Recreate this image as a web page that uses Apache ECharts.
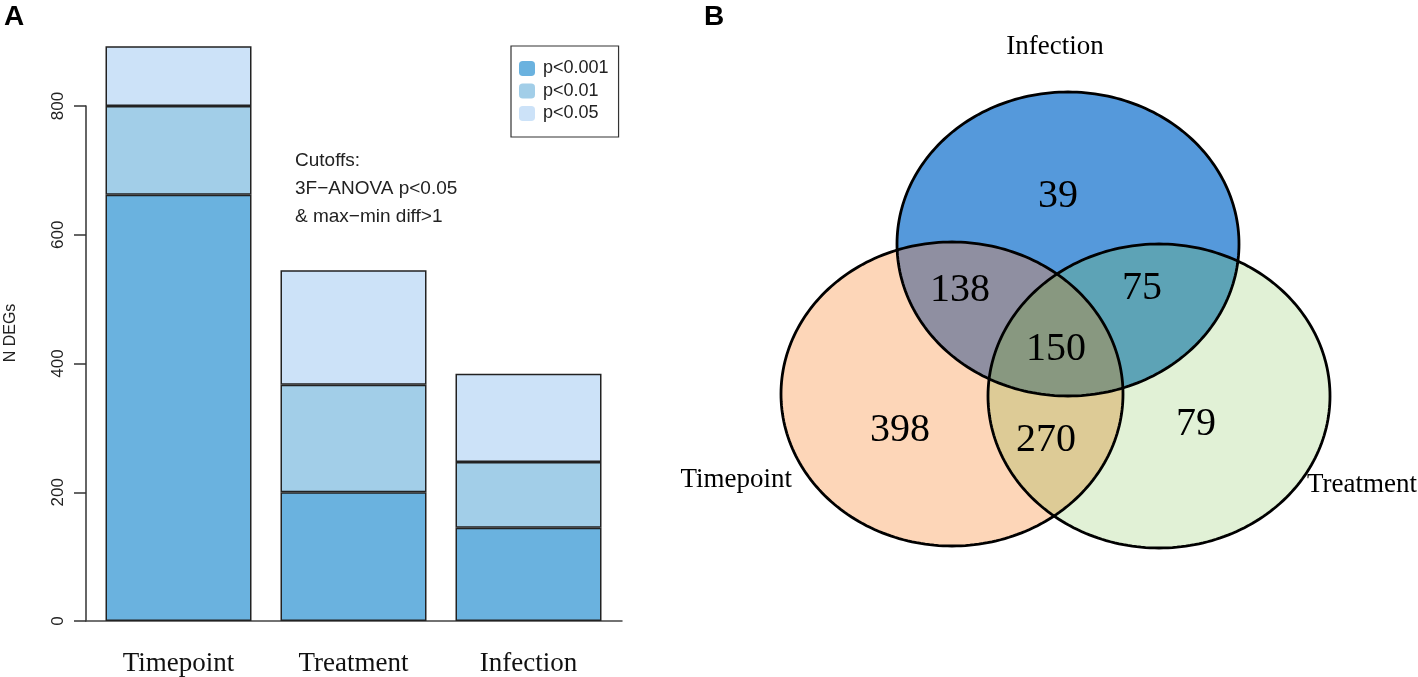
<!DOCTYPE html>
<html>
<head>
<meta charset="utf-8">
<script src="https://cdn.jsdelivr.net/npm/echarts@6/dist/echarts.min.js"></script>
<style>
html,body{margin:0;padding:0;background:#fff;}
#chart{width:1418px;height:677px;}
</style>
</head>
<body>
<div id="chart"></div>
<script>
// ---------- Data ----------
const categories = ['Timepoint', 'Treatment', 'Infection'];
const pLevels = ['p<0.001', 'p<0.01', 'p<0.05'];
const p001 = [662, 200, 145];
const p01 = [138, 167, 102];
const p05 = [93, 178, 137];
const yTickStep = 200;
const yMaxTick = 800;
const cutoffLines = ['Cutoffs:', '3F\u2212ANOVA p<0.05', '& max\u2212min diff>1'];

const vennSets = ['Infection', 'Timepoint', 'Treatment'];
const vennRegions = ['I', 'I&Ti', 'I&Tr', 'I&Ti&Tr', 'Ti', 'Ti&Tr', 'Tr'];
const vennCounts = [39, 138, 75, 150, 398, 270, 79];

// ---------- Layout / style ----------
const barColors = ['#6AB2DF', '#A2CEE8', '#CCE2F8'];
const SANS = 'Liberation Sans, Arial, Helvetica, sans-serif';
const SERIF = 'Liberation Serif, Times New Roman, serif';

// Venn geometry in local pixel units of the right panel
const VENN = {
  rx: 171, ry: 152,
  centers: { 'I': [308, 244], 'Ti': [192, 394], 'Tr': [399, 396] },
  fills: {
    'I': '#5599DB', 'Ti': '#FDD6B8', 'Tr': '#E1F1D6',
    'I&Ti': '#8F8FA1', 'I&Tr': '#5DA3B6', 'Ti&Tr': '#DDCB96', 'I&Ti&Tr': '#889880'
  },
  labelPos: {
    'I': [298, 196], 'I&Ti': [200, 290], 'I&Tr': [382, 288], 'I&Ti&Tr': [296, 349],
    'Ti': [140, 430], 'Ti&Tr': [286, 440], 'Tr': [436, 424]
  },
  setLabel: {
    'Infection': { pos: [295, 47], align: 'center' },
    'Timepoint': { pos: [32, 480], align: 'right' },
    'Treatment': { pos: [657, 485], align: 'right' }
  }
};

function ellipsePoly(c, rx, ry, n) {
  const pts = [];
  for (let i = 0; i < n; i++) {
    const t = 2 * Math.PI * i / n;
    pts.push([c[0] + rx * Math.cos(t), c[1] + ry * Math.sin(t)]);
  }
  return pts;
}
function polyArea(p) {
  let a = 0;
  for (let i = 0; i < p.length; i++) {
    const q = p[i], r = p[(i + 1) % p.length];
    a += q[0] * r[1] - r[0] * q[1];
  }
  return a / 2;
}
function clipPoly(subject, clip) {
  const s = Math.sign(polyArea(clip)) || 1;
  let out = subject.slice();
  for (let i = 0; i < clip.length && out.length; i++) {
    const A = clip[i], B = clip[(i + 1) % clip.length];
    const inside = p => s * ((B[0] - A[0]) * (p[1] - A[1]) - (B[1] - A[1]) * (p[0] - A[0])) >= 0;
    const inter = (P, Q) => {
      const a1 = B[1] - A[1], b1 = A[0] - B[0], c1 = a1 * A[0] + b1 * A[1];
      const a2 = Q[1] - P[1], b2 = P[0] - Q[0], c2 = a2 * P[0] + b2 * P[1];
      const d = a1 * b2 - a2 * b1;
      return [(b2 * c1 - b1 * c2) / d, (a1 * c2 - a2 * c1) / d];
    };
    const inp = out; out = [];
    for (let j = 0; j < inp.length; j++) {
      const P = inp[j], Q = inp[(j + 1) % inp.length];
      const pin = inside(P), qin = inside(Q);
      if (pin) { out.push(P); if (!qin) out.push(inter(P, Q)); }
      else if (qin) { out.push(inter(P, Q)); }
    }
  }
  return out;
}

function vennRender(params, api) {
  const N = 240;
  const polys = {};
  ['I', 'Ti', 'Tr'].forEach(k => {
    polys[k] = ellipsePoly(VENN.centers[k], VENN.rx, VENN.ry, N).map(p => api.coord(p));
  });
  const children = [];
  const addFill = (pts, fill) => children.push({ type: 'polygon', shape: { points: pts }, style: { fill: fill, stroke: null } });
  ['Ti', 'Tr', 'I'].forEach(k => addFill(polys[k], VENN.fills[k]));
  addFill(clipPoly(polys['I'], polys['Ti']), VENN.fills['I&Ti']);
  addFill(clipPoly(polys['I'], polys['Tr']), VENN.fills['I&Tr']);
  addFill(clipPoly(polys['Ti'], polys['Tr']), VENN.fills['Ti&Tr']);
  addFill(clipPoly(clipPoly(polys['I'], polys['Ti']), polys['Tr']), VENN.fills['I&Ti&Tr']);
  ['Ti', 'Tr', 'I'].forEach(k => children.push({
    type: 'polygon', shape: { points: polys[k] },
    style: { fill: null, stroke: '#000', lineWidth: 2.8 }
  }));
  vennRegions.forEach((r, i) => {
    const p = api.coord(VENN.labelPos[r]);
    children.push({ type: 'text', x: p[0], y: p[1], style: {
      text: String(vennCounts[i]), font: '40px ' + SERIF, fill: '#000', align: 'center', verticalAlign: 'middle' } });
  });
  vennSets.forEach(s => {
    const L = VENN.setLabel[s];
    const p = api.coord(L.pos);
    children.push({ type: 'text', x: p[0], y: p[1], style: {
      text: s, font: '27px ' + SERIF, fill: '#000', align: L.align, verticalAlign: 'middle' } });
  });
  return { type: 'group', children: children };
}

const chart = echarts.init(document.getElementById('chart'), null, { renderer: 'canvas' });

const barSeries = [p001, p01, p05].map((vals, i) => ({
  name: pLevels[i], type: 'bar', stack: 'total', xAxisIndex: 0, yAxisIndex: 0,
  data: vals, barWidth: 146, clip: false, animation: false,
  itemStyle: { color: barColors[i], borderColor: '#222', borderWidth: 1.5 },
  emphasis: { disabled: true }
}));

const option = {
  animation: false,
  backgroundColor: '#fff',
  grid: [
    { left: 91, width: 525, top: 106, bottom: 56 },
    { left: 86, width: 536, top: 106, bottom: 56 },
    { left: 760, width: 658, top: 0, height: 677 }
  ],
  xAxis: [
    { type: 'category', gridIndex: 0, data: categories,
      axisLine: { show: false }, axisTick: { show: false },
      axisLabel: { fontFamily: SERIF, fontSize: 27, color: '#111', margin: 29, interval: 0 } },
    { type: 'value', gridIndex: 1, min: 0, max: 1,
      axisLine: { show: true, onZero: false, lineStyle: { color: '#444', width: 1.5 } },
      axisTick: { show: false }, axisLabel: { show: false }, splitLine: { show: false } },
    { type: 'value', gridIndex: 2, min: 0, max: 658, show: false }
  ],
  yAxis: [
    { type: 'value', gridIndex: 0, min: 0, max: yMaxTick, show: false },
    { type: 'value', gridIndex: 1, min: 0, max: yMaxTick, interval: yTickStep,
      axisLine: { show: true, onZero: false, lineStyle: { color: '#333', width: 1.5 } },
      axisTick: { show: true, length: 12, lineStyle: { color: '#333', width: 1.5 } },
      axisLabel: { rotate: 90, margin: 19, fontFamily: SANS, fontSize: 17, color: '#222' },
      splitLine: { show: false } },
    { type: 'value', gridIndex: 2, min: 0, max: 677, inverse: true, show: false }
  ],
  legend: {
    data: pLevels, orient: 'vertical', left: 511, top: 46,
    itemWidth: 16, itemHeight: 15, itemGap: 4.5,
    padding: [13.5, 10, 14.5, 8],
    borderColor: '#333', borderWidth: 1.2, backgroundColor: '#fff',
    itemStyle: { borderWidth: 0 },
    textStyle: { fontFamily: SANS, fontSize: 18, color: '#222', padding: [0, 0, 0, 3] },
    selectedMode: false
  },
  graphic: [
    { type: 'text', left: 4, top: 3, style: { text: 'A', font: 'bold 28px ' + SANS, fill: '#000' } },
    { type: 'text', left: 704, top: 3, style: { text: 'B', font: 'bold 28px ' + SANS, fill: '#000' } },
    { type: 'text', x: 11, y: 333, rotation: Math.PI / 2,
      style: { text: 'N DEGs', font: '16px ' + SANS, fill: '#222', align: 'center', verticalAlign: 'middle' } }
  ].concat(cutoffLines.map((t, i) => ({
    type: 'text', x: 295, y: 161 + 28 * i,
    style: { text: t, font: '19px ' + SANS, fill: '#222', align: 'left', verticalAlign: 'middle' }
  }))),
  series: barSeries.concat([{
    type: 'custom', name: 'venn', coordinateSystem: 'cartesian2d',
    xAxisIndex: 2, yAxisIndex: 2, data: [[0, 0]], renderItem: vennRender,
    silent: true, animation: false
  }])
};
chart.setOption(option);
</script>
</body>
</html>
